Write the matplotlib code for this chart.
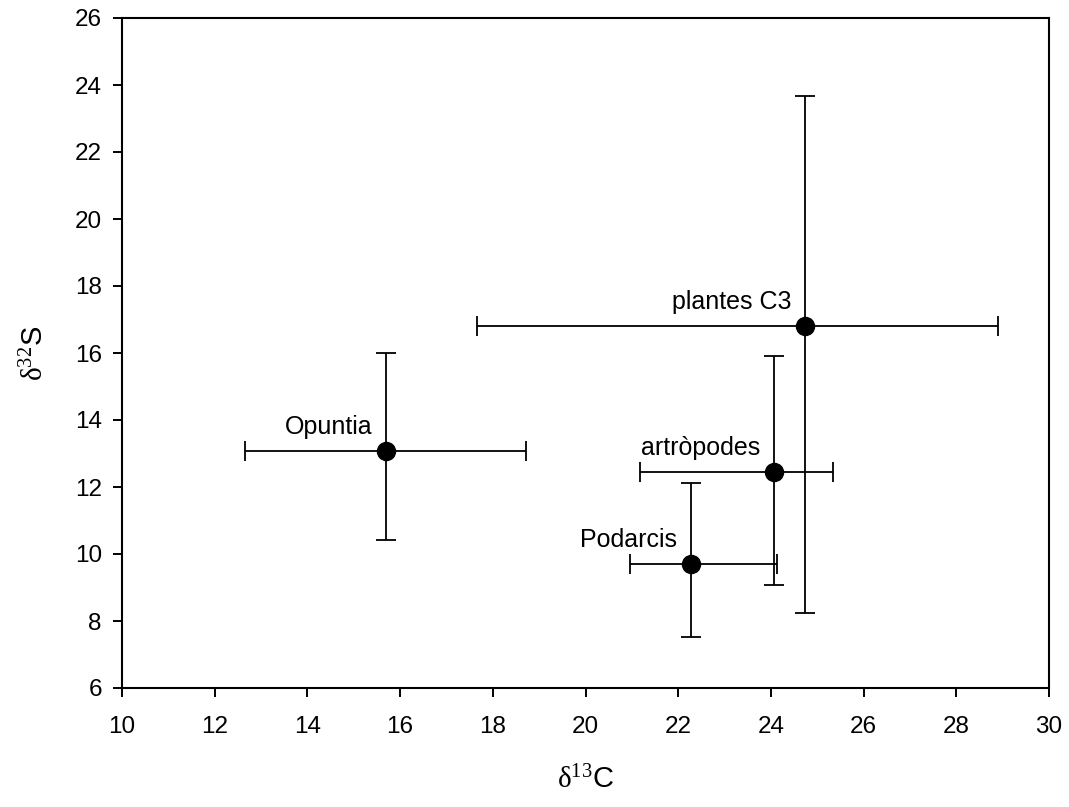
import matplotlib.pyplot as plt
import numpy as np

plt.rcParams['font.family'] = ['Liberation Sans', 'DejaVu Sans']
plt.rcParams['mathtext.fontset'] = 'custom'
plt.rcParams['mathtext.rm'] = 'Liberation Serif'
plt.rcParams['mathtext.it'] = 'Liberation Serif'

# groups and their mean values
groups = ['Opuntia', 'plantes C3', 'artròpodes', 'Podarcis']
d13c = [15.70, 24.74, 24.06, 22.28]
d32s = [13.08, 16.81, 12.46, 9.70]

# error bar ends
d13c_low = [12.66, 17.66, 21.18, 20.96]
d13c_high = [18.72, 28.91, 25.34, 24.13]
d32s_low = [10.41, 8.23, 9.06, 7.53]
d32s_high = [15.99, 23.66, 15.91, 12.11]

x = np.array(d13c)
y = np.array(d32s)
xerr = [x - np.array(d13c_low), np.array(d13c_high) - x]
yerr = [y - np.array(d32s_low), np.array(d32s_high) - y]

fig = plt.figure(figsize=(10.69, 8.07), dpi=100)
ax = fig.add_axes([122 / 1069, 1 - 688 / 807, (1049 - 122) / 1069, (688 - 18) / 807])

ax.errorbar(x, y, xerr=xerr, yerr=yerr, fmt='o', color='black',
            markersize=13, elinewidth=1.3, capsize=7, capthick=1.3)

for name, xi, yi in zip(groups, x, y):
    ax.text(xi - 0.3, yi + 0.5, name, ha='right', va='baseline', fontsize=18)

ax.set_xlim(10, 30)
ax.set_ylim(6, 26)
ax.set_xticks(np.arange(10, 31, 2))
ax.set_yticks(np.arange(6, 27, 2))
ax.tick_params(direction='out', length=6.5, width=1.4, labelsize=17.5)
ax.tick_params(axis='x', pad=14)
ax.tick_params(axis='y', pad=8)
for s in ax.spines.values():
    s.set_linewidth(1.5)

ax.set_xlabel(r'$\mathrm{\delta}^{13}$C', fontsize=21, labelpad=20)
ax.set_ylabel(r'$\mathrm{\delta}^{32}$S', fontsize=21, labelpad=18)

fig.savefig('out.png', dpi=100)
